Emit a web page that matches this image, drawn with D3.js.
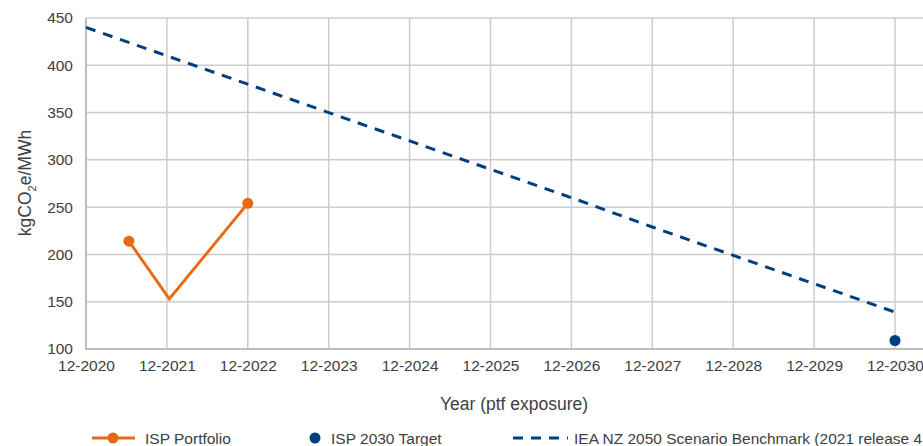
<!DOCTYPE html>
<html>
<head>
<meta charset="utf-8">
<script src="https://cdn.jsdelivr.net/npm/d3@7/dist/d3.min.js"></script>
<style>
  html, body { margin: 0; padding: 0; background: #fff; }
  svg { display: block; font-family: "Liberation Sans", Arial, sans-serif; }
</style>
</head>
<body>
<svg id="chart" width="923" height="446"></svg>
<script>
// Data (x = years since 12-2020)
const tickLabels = ["12-2020","12-2021","12-2022","12-2023","12-2024","12-2025","12-2026","12-2027","12-2028","12-2029","12-2030"];
const yTicks = [100,150,200,250,300,350,400,450];
const portfolioX = [0.53, 1.03, 2.0];
const portfolioY = [214, 153, 254];
const targetX = [10];
const targetY = [109];
const benchmarkX = [0,1,2,3,4,5,6,7,8,9,10];
const benchmarkY = [440, 410, 380, 350, 320, 290, 260, 229, 199, 169, 139];
const legendLabels = ["ISP Portfolio", "ISP 2030 Target", "IEA NZ 2050 Scenario Benchmark (2021 release 4.0)"];

(function () {
const orange = "#E8690F", navy = "#003F7F", textCol = "#404040";
const svg = d3.select("#chart");
const W = 923;
const mLeft = 86, mTop = 18, mBottom = 349;
const fs = 15.5;

const x = d3.scaleLinear().domain([0, 10]).range([mLeft, 895]);
const y = d3.scaleLinear().domain([100, 450]).range([mBottom, mTop]);

// gridlines
const g = svg.append("g");
g.selectAll(".vg").data(d3.range(1, 11)).join("line")
  .attr("x1", d => x(d)).attr("x2", d => x(d))
  .attr("y1", mTop).attr("y2", mBottom)
  .attr("stroke", "#cccccc").attr("stroke-width", 1.5);
g.selectAll(".hg").data(yTicks.filter(v => v > 100)).join("line")
  .attr("x1", mLeft).attr("x2", W)
  .attr("y1", d => y(d)).attr("y2", d => y(d))
  .attr("stroke", "#cccccc").attr("stroke-width", 1.5);
// axis lines
g.append("line").attr("x1", mLeft).attr("x2", mLeft).attr("y1", mTop).attr("y2", mBottom + 1)
  .attr("stroke", "#bdbdbd").attr("stroke-width", 2);
g.append("line").attr("x1", mLeft - 1).attr("x2", W).attr("y1", mBottom).attr("y2", mBottom)
  .attr("stroke", "#bdbdbd").attr("stroke-width", 2);

// axes via d3
const yAxis = d3.axisLeft(y).tickValues(yTicks).tickSize(0).tickPadding(13);
const ya = svg.append("g").attr("transform", `translate(${mLeft},0)`).call(yAxis);
ya.select(".domain").remove();
ya.selectAll("text").attr("font-size", fs).attr("fill", textCol).attr("font-family", "Liberation Sans, Arial, sans-serif");

const xAxis = d3.axisBottom(x).tickValues(d3.range(0, 11)).tickFormat(i => tickLabels[i]).tickSize(0).tickPadding(11);
const xa = svg.append("g").attr("transform", `translate(0,${mBottom})`).call(xAxis);
xa.select(".domain").remove();
xa.selectAll("text").attr("font-size", fs).attr("fill", textCol).attr("font-family", "Liberation Sans, Arial, sans-serif");

// axis titles
svg.append("text").attr("x", 514).attr("y", 410).attr("text-anchor", "middle")
  .attr("font-size", 17.5).attr("fill", textCol).text("Year (ptf exposure)");
const yt = svg.append("text").attr("transform", "translate(31,183) rotate(-90)")
  .attr("text-anchor", "middle").attr("font-size", 17.5).attr("fill", textCol);
yt.append("tspan").text("kgCO");
yt.append("tspan").attr("font-size", 11).attr("dy", 5).text("2");
yt.append("tspan").attr("dy", -5).text("e/MWh");

// benchmark dashed line
const bench = benchmarkX.map((v, i) => [v, benchmarkY[i]]);
svg.append("path").datum(bench)
  .attr("d", d3.line().x(d => x(d[0])).y(d => y(d[1])))
  .attr("fill", "none").attr("stroke", navy).attr("stroke-width", 3)
  .attr("stroke-dasharray", "10,8");

// portfolio line
const port = portfolioX.map((v, i) => [v, portfolioY[i]]);
svg.append("path").datum(port)
  .attr("d", d3.line().x(d => x(d[0])).y(d => y(d[1])))
  .attr("fill", "none").attr("stroke", orange).attr("stroke-width", 2.9)
  .attr("stroke-linejoin", "miter");
svg.selectAll(".pm").data([port[0], port[port.length - 1]]).join("circle")
  .attr("cx", d => x(d[0])).attr("cy", d => y(d[1])).attr("r", 5.5).attr("fill", orange);

// target
svg.selectAll(".tm").data(targetX.map((v, i) => [v, targetY[i]])).join("circle")
  .attr("cx", d => x(d[0])).attr("cy", d => y(d[1])).attr("r", 5.5).attr("fill", navy);

// legend
const ly = 438;
const lg = svg.append("g");
lg.append("line").attr("x1", 92).attr("x2", 135).attr("y1", ly).attr("y2", ly)
  .attr("stroke", orange).attr("stroke-width", 2.9);
lg.append("circle").attr("cx", 113).attr("cy", ly).attr("r", 5.5).attr("fill", orange);
lg.append("text").attr("x", 145).attr("y", ly + 5.5).attr("font-size", fs).attr("fill", textCol).text(legendLabels[0]);
lg.append("circle").attr("cx", 315).attr("cy", ly).attr("r", 5.5).attr("fill", navy);
lg.append("text").attr("x", 331).attr("y", ly + 5.5).attr("font-size", fs).attr("fill", textCol).text(legendLabels[1]);
lg.append("line").attr("x1", 513).attr("x2", 568).attr("y1", ly).attr("y2", ly)
  .attr("stroke", navy).attr("stroke-width", 3).attr("stroke-dasharray", "10,8");
lg.append("text").attr("x", 574).attr("y", ly + 5.5).attr("font-size", fs).attr("fill", textCol).text(legendLabels[2]);
})();
</script>
</body>
</html>
